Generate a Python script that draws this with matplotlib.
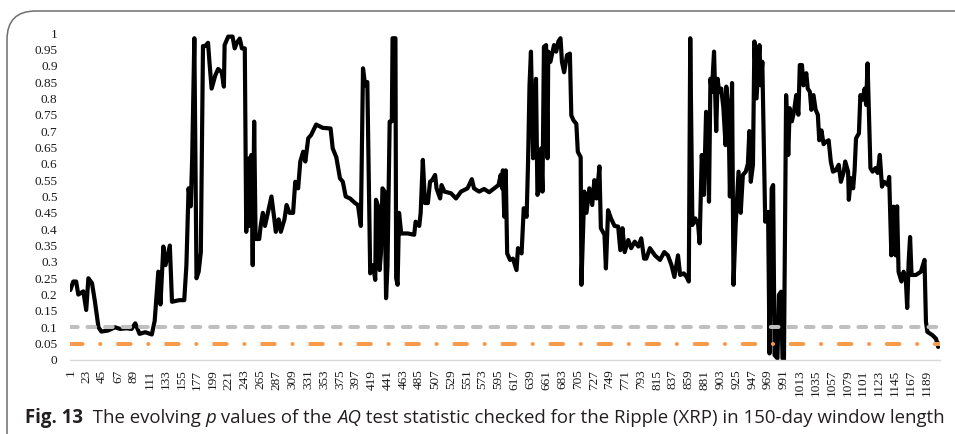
import numpy as np
import matplotlib
matplotlib.use("Agg")
import matplotlib.pyplot as plt
from matplotlib.patches import FancyBboxPatch

# p values (window index -> p value)
days = [1, 5, 9, 12, 19, 23, 26, 31, 35, 40, 44, 53, 63, 70, 79, 86, 91, 97, 105, 114,
        118, 123, 126, 130, 133, 139, 142, 152, 159, 162, 165, 168, 170, 173, 176, 179, 182, 185, 188, 192,
        194, 197, 202, 206, 211, 214, 215, 220, 226, 229, 232, 236, 239, 243, 245, 249, 250, 252, 254, 256,
        258, 263, 265, 268, 271, 276, 280, 284, 286, 290, 293, 298, 301, 305, 310, 313, 317, 320, 324, 327,
        331, 335, 342, 351, 362, 365, 370, 375, 379, 383, 389, 396, 400, 404, 407, 410, 413, 417, 421, 424,
        425, 428, 430, 432, 434, 437, 439, 441, 444, 447, 448, 452, 453, 455, 457, 460, 469, 478, 480, 485,
        487, 490, 493, 497, 500, 503, 507, 509, 514, 516, 520, 529, 536, 543, 552, 558, 561, 568, 575, 582,
        589, 595, 598, 600, 601, 603, 605, 607, 611, 615, 620, 622, 627, 630, 634, 636, 638, 640, 643, 645,
        647, 649, 652, 654, 656, 658, 661, 663, 664, 667, 672, 675, 678, 681, 683, 686, 690, 694, 696, 699,
        703, 705, 709, 710, 714, 717, 721, 725, 728, 731, 735, 737, 742, 744, 747, 751, 756, 761, 764, 767,
        770, 775, 779, 784, 789, 793, 797, 800, 805, 812, 819, 825, 830, 835, 839, 844, 847, 852, 856, 859,
        861, 864, 868, 872, 874, 877, 880, 883, 885, 887, 889, 891, 894, 897, 899, 901, 904, 907, 910, 911,
        914, 916, 919, 921, 924, 928, 931, 934, 938, 941, 943, 945, 948, 950, 953, 957, 959, 961, 965, 969,
        971, 974, 976, 978, 982, 984, 987, 989, 991, 994, 997, 999, 1002, 1005, 1008, 1011, 1013, 1016, 1018, 1022,
        1024, 1027, 1029, 1032, 1035, 1038, 1040, 1043, 1046, 1049, 1053, 1056, 1059, 1063, 1067, 1070, 1074, 1076, 1080, 1081,
        1084, 1087, 1089, 1091, 1095, 1097, 1100, 1103, 1105, 1107, 1111, 1114, 1118, 1121, 1124, 1127, 1130, 1135, 1137, 1140,
        1143, 1146, 1148, 1150, 1154, 1157, 1160, 1162, 1164, 1166, 1168, 1174, 1181, 1186, 1188, 1190, 1197, 1202, 1205, 1207]

pvals = [0.214, 0.24, 0.24, 0.20, 0.21, 0.153, 0.25, 0.235, 0.18, 0.10, 0.087, 0.09, 0.10, 0.095, 0.097, 0.095, 0.112, 0.08, 0.085, 0.078,
         0.12, 0.27, 0.17, 0.347, 0.29, 0.35, 0.178, 0.183, 0.183, 0.29, 0.525, 0.47, 0.617, 0.984, 0.25, 0.27, 0.33, 0.96, 0.96, 0.97,
         0.91, 0.83, 0.87, 0.89, 0.88, 0.836, 0.963, 0.989, 0.989, 0.953, 0.97, 0.983, 0.953, 0.953, 0.392, 0.617, 0.41, 0.627, 0.29, 0.729,
         0.37, 0.37, 0.41, 0.45, 0.41, 0.46, 0.50, 0.43, 0.392, 0.43, 0.392, 0.43, 0.474, 0.45, 0.45, 0.545, 0.525, 0.607, 0.637, 0.607,
         0.678, 0.688, 0.72, 0.71, 0.708, 0.647, 0.62, 0.556, 0.545, 0.50, 0.494, 0.48, 0.474, 0.41, 0.892, 0.84, 0.85, 0.265, 0.29, 0.245,
         0.49, 0.47, 0.275, 0.33, 0.525, 0.515, 0.189, 0.29, 0.729, 0.73, 0.984, 0.984, 0.25, 0.23, 0.45, 0.387, 0.387, 0.383, 0.423, 0.41,
         0.45, 0.612, 0.48, 0.48, 0.545, 0.55, 0.566, 0.525, 0.494, 0.535, 0.515, 0.51, 0.494, 0.515, 0.525, 0.553, 0.525, 0.515, 0.523, 0.513,
         0.525, 0.535, 0.566, 0.525, 0.58, 0.438, 0.58, 0.326, 0.306, 0.31, 0.275, 0.342, 0.326, 0.464, 0.438, 0.607, 0.84, 0.943, 0.617, 0.72,
         0.86, 0.505, 0.525, 0.647, 0.515, 0.958, 0.963, 0.617, 0.943, 0.912, 0.963, 0.943, 0.974, 0.984, 0.912, 0.88, 0.932, 0.937, 0.748, 0.733,
         0.722, 0.637, 0.62, 0.23, 0.515, 0.45, 0.525, 0.474, 0.55, 0.494, 0.592, 0.403, 0.383, 0.28, 0.458, 0.433, 0.41, 0.408, 0.336, 0.403,
         0.33, 0.367, 0.342, 0.362, 0.347, 0.372, 0.31, 0.31, 0.342, 0.32, 0.306, 0.33, 0.32, 0.29, 0.254, 0.32, 0.26, 0.265, 0.254, 0.24,
         0.984, 0.413, 0.433, 0.413, 0.357, 0.627, 0.505, 0.759, 0.754, 0.484, 0.86, 0.82, 0.943, 0.70, 0.86, 0.82, 0.83, 0.77, 0.657, 0.836,
         0.77, 0.50, 0.847, 0.23, 0.413, 0.576, 0.45, 0.566, 0.576, 0.60, 0.70, 0.545, 0.597, 0.974, 0.80, 0.963, 0.84, 0.912, 0.423, 0.453,
         0.02, 0.525, 0.535, 0.015, 0.005, 0.199, 0.209, 0.005, 0.0, 0.81, 0.627, 0.77, 0.73, 0.76, 0.81, 0.75, 0.902, 0.902, 0.84, 0.877,
         0.83, 0.82, 0.765, 0.81, 0.765, 0.75, 0.672, 0.702, 0.66, 0.667, 0.672, 0.607, 0.576, 0.58, 0.597, 0.545, 0.576, 0.607, 0.576, 0.49,
         0.556, 0.525, 0.58, 0.678, 0.693, 0.81, 0.796, 0.83, 0.78, 0.907, 0.587, 0.576, 0.587, 0.572, 0.627, 0.53, 0.545, 0.535, 0.56, 0.32,
         0.469, 0.32, 0.47, 0.27, 0.24, 0.27, 0.25, 0.159, 0.30, 0.376, 0.26, 0.26, 0.27, 0.306, 0.117, 0.086, 0.076, 0.065, 0.04, 0.05]

n_windows = 1207
level_10 = 0.10
level_05 = 0.05
tick_days = list(range(1, 1190, 22))
y_ticks = [round(v * 0.05, 2) for v in range(21)]

fig = plt.figure(figsize=(9.55, 4.34), dpi=100)
ax = fig.add_axes([70 / 955, 74 / 434, 870 / 955, 327 / 434])

ax.plot(days, pvals, color="black", lw=3.0, solid_joinstyle="round", solid_capstyle="round", zorder=2)
ax.plot([0.5, n_windows + 0.5], [level_10, level_10], color="#bfbfbf", lw=2.9,
        linestyle=(0, (1.9, 2.45)), dash_capstyle="round", zorder=3)
ax.plot([0.5, n_windows + 0.5], [level_05, level_05], color="#f79a4c", lw=2.9,
        linestyle=(0, (3.1, 4.4, 0.03, 4.4)), dash_capstyle="round", zorder=3)

ax.set_xlim(0.5, n_windows + 0.5)
ax.set_ylim(0, 1)
ax.set_xticks(tick_days)
ax.set_xticklabels([str(d) for d in tick_days], rotation=90, va="top", ha="center",
                   family="Liberation Serif", fontsize=9.5, color="#1a1a1a")
ax.set_yticks(y_ticks)
ax.set_yticklabels([f"{v:g}" for v in y_ticks], family="Liberation Serif", fontsize=9.5, color="#1a1a1a")
ax.tick_params(axis="both", length=0)
ax.tick_params(axis="y", pad=9)
ax.tick_params(axis="x", pad=7)
for s in ["top", "right", "left"]:
    ax.spines[s].set_visible(False)
ax.spines["bottom"].set_color("#d9d9d9")
ax.spines["bottom"].set_linewidth(1.0)

# rounded frame of the figure panel, open at right and bottom
frame = FancyBboxPatch((7 / 955, -0.2), 1.2, (434 - 11) / 434 + 0.2,
                       boxstyle="round,pad=0,rounding_size=0.03", transform=fig.transFigure,
                       fill=False, ec="#6e6e6e", lw=1.1, mutation_aspect=955 / 434)
fig.patches.append(frame)

# caption built from pieces
renderer = fig.canvas.get_renderer()
pieces = [("Fig. 13", "bold", "normal"), ("  The evolving ", "normal", "normal"), ("p", "normal", "italic"),
          (" values of the ", "normal", "normal"), ("AQ", "normal", "italic"),
          (" test statistic checked for the Ripple (XRP) in 150-day window length", "normal", "normal")]
x = 25 / 955
y = 1 - 423 / 434
for txt, w, st in pieces:
    t = fig.text(x, y, txt, family="Open Sans", fontsize=13.4, fontweight=w, fontstyle=st,
                 color="#231f20", va="baseline", ha="left")
    bb = t.get_window_extent(renderer)
    x += bb.width / (fig.get_figwidth() * fig.dpi)

fig.savefig("out.png", dpi=100)
